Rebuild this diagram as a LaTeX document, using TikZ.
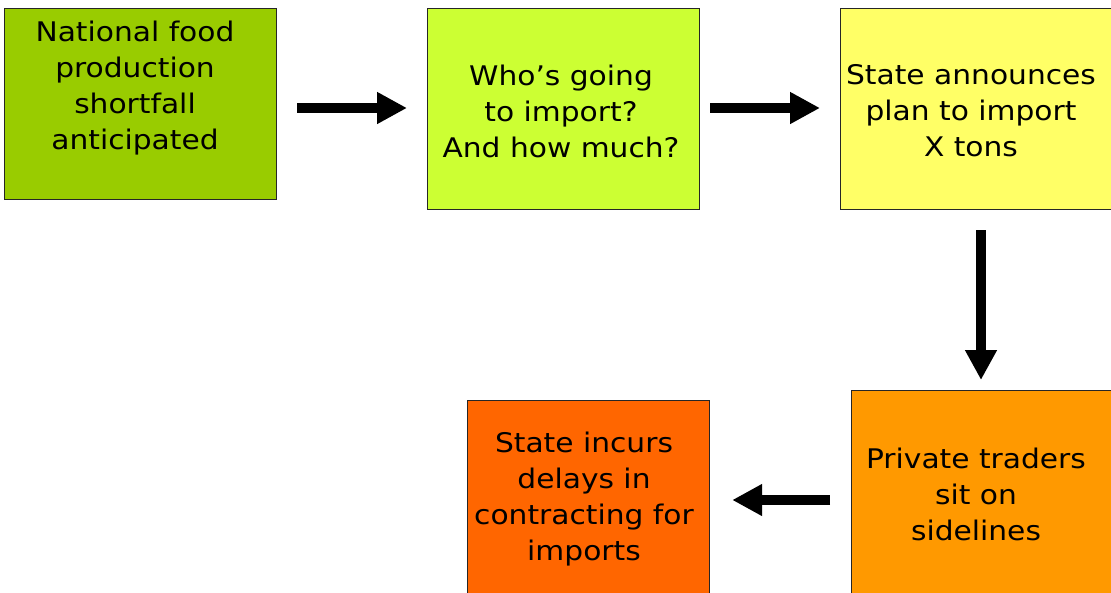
\documentclass[tikz,border=0pt]{standalone}
\usepackage{fontspec}
\setmainfont{DejaVu Sans}[FakeStretch=1.1]
\usetikzlibrary{arrows.meta}
\definecolor{boxA}{HTML}{99CC00}
\definecolor{boxB}{HTML}{CCFF33}
\definecolor{boxC}{HTML}{FFFF66}
\definecolor{boxD}{HTML}{FF9900}
\definecolor{boxE}{HTML}{FF6600}
\tikzset{
  stepbox/.style={draw=black!85, line width=1.2pt, inner sep=0pt, anchor=north west},
  steptext/.style={align=center, inner sep=0pt, font=\fontsize{27}{36}\selectfont},
  flow/.style={line width=10pt, -{Triangle[length=30pt,width=30pt]}},
}
\begin{document}
\begin{tikzpicture}[x=1pt,y=-1pt]
  \useasboundingbox (0,0) rectangle (1111,592);
  % boxes
  \node[stepbox, fill=boxA, minimum width=272pt, minimum height=191pt] (b1) at (4,8) {};
  \node[stepbox, fill=boxB, minimum width=272pt, minimum height=201pt] (b2) at (427,8) {};
  \node[stepbox, fill=boxC, minimum width=272pt, minimum height=201pt] (b3) at (840,8) {};
  \node[stepbox, fill=boxD, minimum width=262pt, minimum height=203pt] (b4) at (851,390) {};
  \node[stepbox, fill=boxE, minimum width=242pt, minimum height=193pt] (b5) at (467,400) {};
  % labels
  \node[steptext] (t1) at (135,88) {National food\\production\\shortfall\\anticipated};
  \node[steptext] (t2) at (561,111) {Who’s going\\to import?\\And how much?};
  \node[steptext] (t3) at (971,111) {State announces\\plan to import\\X tons};
  \node[steptext] (t4) at (976,494) {Private traders\\sit on\\sidelines};
  \node[steptext] (t5) at (584,499) {State incurs\\delays in\\contracting for\\imports};
  % connectors
  \draw[flow] ([xshift=20pt]b1.east |- 0,108) -- ([xshift=-20pt]b2.west |- 0,108);
  \draw[flow] ([xshift=10pt]b2.east |- 0,108) -- ([xshift=-20pt]b3.west |- 0,108);
  \draw[flow] ([yshift=-20pt]b3.south -| 981,0) -- ([yshift=10pt]b4.north -| 981,0);
  \draw[flow] ([xshift=-21pt]b4.west |- 0,500) -- ([xshift=22pt]b5.east |- 0,500);
\end{tikzpicture}
\end{document}
